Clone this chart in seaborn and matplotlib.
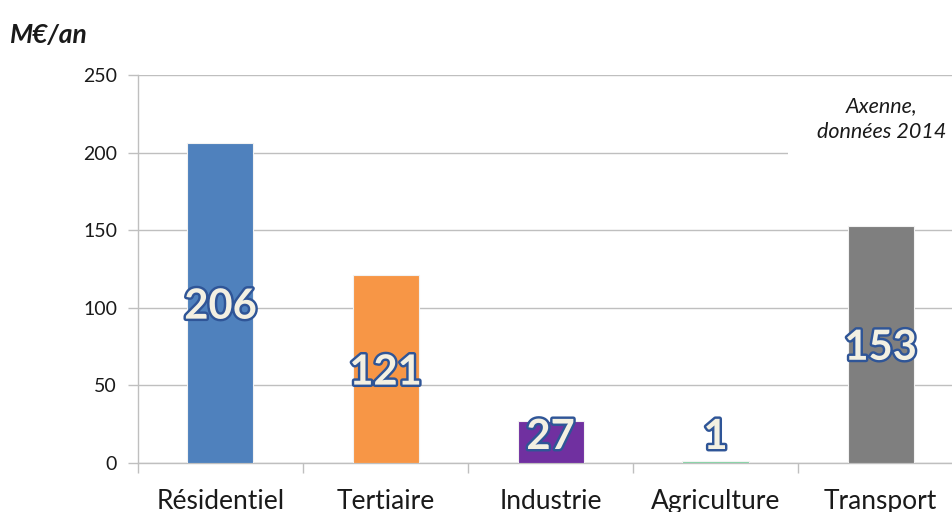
import matplotlib
matplotlib.use("Agg")
import matplotlib.pyplot as plt
import matplotlib.patheffects as pe
from matplotlib.patches import Rectangle
import seaborn as sns
import pandas as pd
import numpy as np

categories = ["Résidentiel", "Tertiaire", "Industrie", "Agriculture", "Transport"]
values = [206, 121, 27, 1, 153]
colors = ["#4F81BD", "#F79646", "#7030A0", "#7FD1A0", "#7F7F7F"]
yticks = [0, 50, 100, 150, 200, 250]
unit_label = "M€/an"
source_note = "Axenne,\ndonnées 2014"

sns.set_theme(style="white")
plt.rcParams['font.family'] = ['Lato', 'DejaVu Sans']

df = pd.DataFrame({"cat": categories, "val": values})

W, H = 953, 512
fig = plt.figure(figsize=(W / 100, H / 100), dpi=100)
ax = fig.add_axes([138/W, 49/H, 825/W, 388/H])

sns.barplot(data=df, x="cat", y="val", hue="cat", palette=colors, width=0.4,
            saturation=1, ax=ax, legend=False, edgecolor="#F2F2F2", linewidth=0.8, zorder=3)

ax.set_ylim(0, 250)
ax.set_xlim(-0.5, len(categories) - 0.5)
ax.set_yticks(yticks)
ax.set_yticklabels([str(t) for t in yticks], fontsize=14, color="#1a1a1a")
ax.set_xticks(range(len(categories)))
ax.set_xticklabels(categories, fontsize=19, color="#1a1a1a")
ax.set_xticks(np.arange(-0.5, len(categories), 1.0), minor=True)
ax.tick_params(axis="x", which="major", length=0, pad=19)
ax.tick_params(axis="x", which="minor", length=7, color="#BFBFBF", width=1, direction="out", bottom=True)
ax.tick_params(axis="y", length=7, color="#BFBFBF", width=1, direction="out", left=True, pad=8)
ax.set_xlabel("")
ax.set_ylabel("")

ax.yaxis.grid(True, color="#BFBFBF", linewidth=1, zorder=0)
ax.xaxis.grid(False)
for s in ["top", "right"]:
    ax.spines[s].set_visible(False)
for s in ["left", "bottom"]:
    ax.spines[s].set_color("#BFBFBF")
    ax.spines[s].set_linewidth(1)

effects = [pe.withStroke(linewidth=3.5, foreground="#2F5597")]
for i, v in enumerate(values):
    ypos = max(v / 2, 19)
    ax.text(i, ypos, str(v), ha="center", va="center_baseline", fontsize=30, fontweight="bold",
            color="#F3F0E2", path_effects=effects, zorder=5)

fig.text(10/W, 1 - 35/H, unit_label, fontsize=19, fontweight="bold", fontstyle="italic",
         ha="left", va="center", color="#1a1a1a")

# white box behind the source note (hides the gridline as in the reference)
fig.patches.append(Rectangle((788/W, 1 - 165/H), (W - 788)/W, 80/H, transform=fig.transFigure,
                             facecolor="white", edgecolor="none", zorder=1))
fig.text(882/W, 1 - 119/H, source_note, fontsize=15.5, fontstyle="italic",
         ha="center", va="center", color="#1a1a1a", linespacing=1.35, zorder=2)

fig.savefig("out.png", dpi=100)
